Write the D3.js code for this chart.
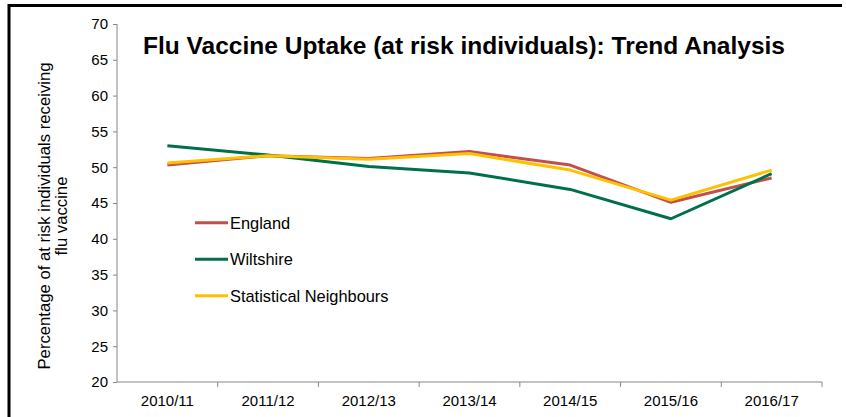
<!DOCTYPE html>
<html>
<head>
<meta charset="utf-8">
<script src="https://cdn.jsdelivr.net/npm/d3@7/dist/d3.min.js"></script>
<style>
  html, body { margin: 0; padding: 0; background: #fff; }
  svg { display: block; font-family: "Liberation Sans", Arial, sans-serif; }
</style>
</head>
<body>
<svg id="chart" width="846" height="417"></svg>
<script>
// Flu vaccine uptake among at-risk individuals, by season
const seasons = ["2010/11", "2011/12", "2012/13", "2013/14", "2014/15", "2015/16", "2016/17"];
const england = [50.3, 51.6, 51.2, 52.2, 50.3, 45.1, 48.5];
const wiltshire = [53.0, 51.7, 50.1, 49.2, 46.9, 42.8, 49.1];
const neighbours = [50.6, 51.6, 51.1, 51.9, 49.6, 45.4, 49.6];
const yTicks = [20, 25, 30, 35, 40, 45, 50, 55, 60, 65, 70];

const series = [
  { name: "England", values: england, color: "#C0504D" },
  { name: "Wiltshire", values: wiltshire, color: "#00704A" },
  { name: "Statistical Neighbours", values: neighbours, color: "#FFC000" }
];

const svg = d3.select("#chart");
const plotLeft = 117, plotRight = 822, plotTop = 24, plotBottom = 382;
const font = "Liberation Sans, Arial, sans-serif";

// frame
svg.append("line").attr("x1", 9).attr("x2", 842).attr("y1", 5.5).attr("y2", 5.5)
  .attr("stroke", "#000").attr("stroke-width", 3);
svg.append("line").attr("x1", 9).attr("x2", 9).attr("y1", 4).attr("y2", 417)
  .attr("stroke", "#000").attr("stroke-width", 3);

const x = d3.scaleBand().domain(seasons).range([plotLeft, plotRight]);
const y = d3.scaleLinear().domain([20, 70]).range([plotBottom, plotTop]);

const axisColor = "#868686";

// y axis
const yAxis = svg.append("g").attr("transform", `translate(${plotLeft},0)`)
  .call(d3.axisLeft(y).tickValues(yTicks).tickSize(4).tickPadding(5).tickFormat(d3.format("d")));
yAxis.select(".domain").attr("stroke", axisColor).attr("d", `M0,${plotTop}V${plotBottom}`);
yAxis.selectAll(".tick line").attr("stroke", axisColor);
yAxis.selectAll(".tick text").attr("fill", "#000").attr("font-size", 15)
  .attr("font-family", font);

// x axis with tick marks at band boundaries
const xAxis = svg.append("g").attr("transform", `translate(0,${plotBottom})`)
  .call(d3.axisBottom(x).tickSize(0).tickPadding(13));
xAxis.select(".domain").attr("stroke", axisColor).attr("d", `M${plotLeft},0H${plotRight}`);
xAxis.selectAll(".tick text").attr("fill", "#000").attr("font-size", 15)
  .attr("font-family", font);
const bounds = seasons.map(s => x(s)).concat([x(seasons[seasons.length - 1]) + x.bandwidth()]);
xAxis.selectAll(".bound").data(bounds.slice(1)).join("line")
  .attr("class", "bound")
  .attr("x1", d => d).attr("x2", d => d).attr("y1", 0).attr("y2", 5)
  .attr("stroke", axisColor);

// y axis title
const yTitle = svg.append("text")
  .attr("transform", "translate(50,216) rotate(-90)")
  .attr("text-anchor", "middle").attr("font-size", 16.7).attr("fill", "#000");
yTitle.append("tspan").attr("x", 0).attr("dy", 0).text("Percentage of at risk individuals receiving");
yTitle.append("tspan").attr("x", 0).attr("dy", 17).text("flu vaccine");

// chart title
svg.append("text").attr("x", 143).attr("y", 54)
  .attr("font-size", 24).attr("font-weight", "bold").attr("fill", "#000")
  .attr("textLength", 642).attr("lengthAdjust", "spacingAndGlyphs")
  .text("Flu Vaccine Uptake (at risk individuals): Trend Analysis");

// lines
const line = d3.line()
  .x((d, i) => x(seasons[i]) + x.bandwidth() / 2)
  .y(d => y(d));

svg.selectAll(".series").data(series).join("path")
  .attr("class", "series")
  .attr("d", d => line(d.values))
  .attr("fill", "none")
  .attr("stroke", d => d.color)
  .attr("stroke-width", 3)
  .attr("stroke-linejoin", "round");

// legend
const legend = svg.selectAll(".legend").data(series).join("g")
  .attr("class", "legend")
  .attr("transform", (d, i) => `translate(195,${222.8 + i * 36.5})`);
legend.append("line").attr("x1", 0).attr("x2", 33).attr("y1", 0).attr("y2", 0)
  .attr("stroke", d => d.color).attr("stroke-width", 3);
legend.append("text").attr("x", 35).attr("y", 6).attr("font-size", 16.4).attr("fill", "#000")
  .text(d => d.name);
</script>
</body>
</html>
